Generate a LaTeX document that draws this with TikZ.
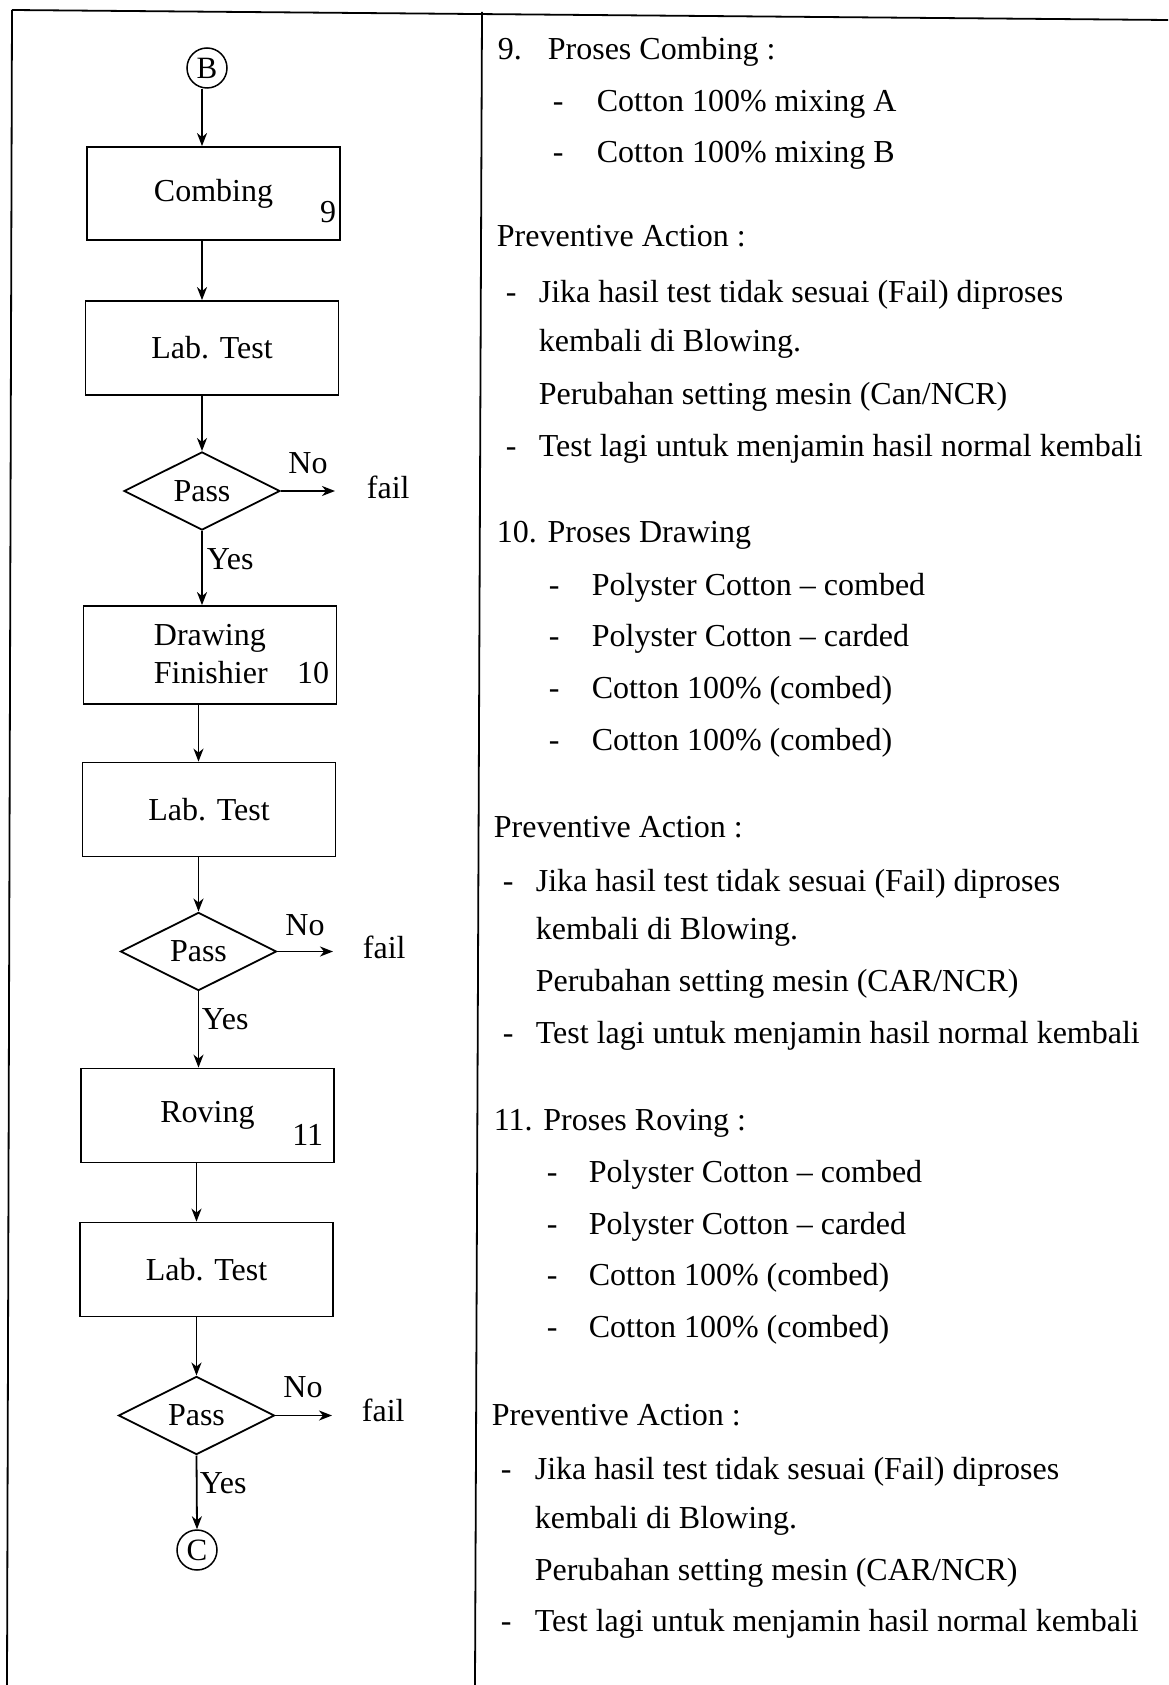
\documentclass[tikz,border=0pt]{standalone}
\usepackage{fontspec}
\setmainfont{Liberation Serif}
\usetikzlibrary{arrows.meta,shapes.geometric}
\begin{document}
\begin{tikzpicture}[x=1pt,y=-1pt,
  font=\fontsize{32}{38}\selectfont,
  line width=1.8pt,
  every node/.style={inner sep=0pt},
  procbox/.style={draw, line width=1.8pt, minimum width=253pt, minimum height=94pt},
  decision/.style={draw, diamond, line width=1.8pt, minimum width=156pt, minimum height=76pt},
  connector/.style={draw, circle, line width=1.5pt, minimum size=40pt, font=\fontsize{31}{36}\selectfont},
  arr/.style={-{Stealth[length=13pt,width=10pt,inset=4pt]}},
  txt/.style={anchor=base west},
  num/.style={anchor=base east},
]
\useasboundingbox (0,0) rectangle (1168,1685);

% page frame and column divider
\draw[line width=1.8pt] (12,10) -- (1168,20);
\draw[line width=1.8pt] (12,10) -- (7,1685);
\draw[line width=1.8pt] (482,12) -- (475,1685);

% ---------- flow chart ----------
\node[connector] (B) at (207,68) {B};
\node[procbox, minimum height=93pt] (comb) at (213.5,193.5) {Combing};
\node[num] (n9) at (337,223) {9};
\node[procbox] (lab1) at (212,348) {Lab. Test};
\node[decision] (d1) at (202,491) {Pass};
\node[anchor=west] (fail1) at (366,487) {fail};
\node (no1) at (308,463) {No};
\node[procbox, minimum height=98pt] (draw) at (210,655) {};
\node[txt] (drawtxt1) at (153,645) {Drawing};
\node[txt] (drawtxt2) at (153,683) {Finishier};
\node[num] (n10) at (330,683) {10};
\node[procbox] (lab2) at (209,809.5) {Lab. Test};
\node[decision] (d2) at (198.5,951.5) {Pass};
\node[anchor=west] (fail2) at (362,947) {fail};
\node (no2) at (305,925) {No};
\node[procbox] (rov) at (207.5,1115.5) {Roving};
\node[num] (n11) at (324,1145) {11};
\node[procbox] (lab3) at (206.5,1269.5) {Lab. Test};
\node[decision, minimum height=77pt] (d3) at (196.5,1415.5) {Pass};
\node[anchor=west] (fail3) at (361,1410) {fail};
\node (no3) at (303,1387) {No};
\node[connector] (C) at (197,1550) {C};

% yes labels
\node[anchor=west] (y1) at (206,559) {Yes};
\node[anchor=west] (y2) at (201,1019) {Yes};
\node[anchor=west] (y3) at (199,1483) {Yes};

% exits to "fail"
\coordinate (f1) at ([xshift=-31pt]fail1.west |- d1.east);
\coordinate (f2) at ([xshift=-29pt]fail2.west |- d2.east);
\coordinate (f3) at ([xshift=-29pt]fail3.west |- d3.east);

% connectors
\draw[arr] (B.south -| d1) -- (d1 |- comb.north);
\draw[arr] (comb.south -| d1) -- (d1 |- lab1.north);
\draw[arr] (lab1.south -| d1) -- (d1.north);
\draw[arr] (d1.east) -- (f1);
\draw[arr] (d1.south) -- (d1 |- draw.north);
\draw[arr] (draw.south -| d2) -- (d2 |- lab2.north);
\draw[arr] (lab2.south -| d2) -- (d2.north);
\draw[arr] (d2.east) -- (f2);
\draw[arr] (d2.south) -- (d2 |- rov.north);
\draw[arr] (rov.south -| d3) -- (d3 |- lab3.north);
\draw[arr] (lab3.south -| d3) -- (d3.north);
\draw[arr] (d3.east) -- (f3);
\draw[arr] (d3.south) -- (C.north);

% ---------- descriptions ----------
\node[txt] (t1) at (497,60) {\makebox[50pt][l]{9.}Proses Combing :};
\node[txt] (t2) at (552,112) {\makebox[44pt][l]{-}Cotton 100\% mixing A};
\node[txt] (t3) at (552,163) {\makebox[44pt][l]{-}Cotton 100\% mixing B};
\node[txt] (t4) at (496,247) {Preventive Action :};
\node[txt] (t5) at (505,302) {\makebox[33pt][l]{-}Jika hasil test tidak sesuai (Fail) diproses};
\node[txt] (t6) at (538,351) {kembali di Blowing.};
\node[txt] (t7) at (538,404) {Perubahan setting mesin (Can/NCR)};
\node[txt] (t8) at (505,456) {\makebox[33pt][l]{-}Test lagi untuk menjamin hasil normal kembali};

\node[txt] (t9) at (496,542) {10. Proses Drawing};
\node[txt] (t10) at (548,595) {\makebox[43pt][l]{-}Polyster Cotton -- combed};
\node[txt] (t11) at (548,646) {\makebox[43pt][l]{-}Polyster Cotton -- carded};
\node[txt] (t12) at (548,698) {\makebox[43pt][l]{-}Cotton 100\% (combed)};
\node[txt] (t13) at (548,750) {\makebox[43pt][l]{-}Cotton 100\% (combed)};
\node[txt] (t14) at (493,837) {Preventive Action :};
\node[txt] (t15) at (502,891) {\makebox[33pt][l]{-}Jika hasil test tidak sesuai (Fail) diproses};
\node[txt] (t16) at (535,939) {kembali di Blowing.};
\node[txt] (t17) at (535,991) {Perubahan setting mesin (CAR/NCR)};
\node[txt] (t18) at (502,1043) {\makebox[33pt][l]{-}Test lagi untuk menjamin hasil normal kembali};

\node[txt] (t19) at (493,1130) {11. Proses Roving :};
\node[txt] (t20) at (546,1182) {\makebox[42pt][l]{-}Polyster Cotton -- combed};
\node[txt] (t21) at (546,1234) {\makebox[42pt][l]{-}Polyster Cotton -- carded};
\node[txt] (t22) at (546,1285) {\makebox[42pt][l]{-}Cotton 100\% (combed)};
\node[txt] (t23) at (546,1337) {\makebox[42pt][l]{-}Cotton 100\% (combed)};
\node[txt] (t24) at (491,1425) {Preventive Action :};
\node[txt] (t25) at (500,1479) {\makebox[34pt][l]{-}Jika hasil test tidak sesuai (Fail) diproses};
\node[txt] (t26) at (534,1528) {kembali di Blowing.};
\node[txt] (t27) at (534,1580) {Perubahan setting mesin (CAR/NCR)};
\node[txt] (t28) at (500,1631) {\makebox[34pt][l]{-}Test lagi untuk menjamin hasil normal kembali};
\end{tikzpicture}
\end{document}
